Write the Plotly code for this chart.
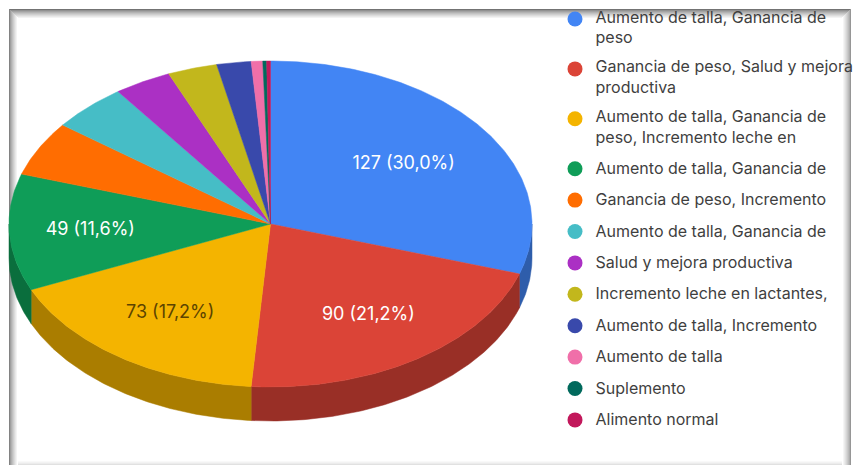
import math
import plotly.graph_objects as go

categories = [
    "Aumento de talla, Ganancia de<br>peso",
    "Ganancia de peso, Salud y mejora<br>productiva",
    "Aumento de talla, Ganancia de<br>peso, Incremento leche en",
    "Aumento de talla, Ganancia de",
    "Ganancia de peso, Incremento",
    "Aumento de talla, Ganancia de",
    "Salud y mejora productiva",
    "Incremento leche en lactantes,",
    "Aumento de talla, Incremento",
    "Aumento de talla",
    "Suplemento",
    "Alimento normal",
]
values = [127, 90, 73, 49, 23, 20, 15, 13, 9, 3, 1, 1]
colors = ["#4285f4", "#db4437", "#f4b400", "#0f9d58", "#ff6d01", "#46bdc6",
          "#ab30c4", "#c2b71c", "#3949ab", "#f06fa9", "#00695c", "#c2185b"]
wall_colors = ["#2e5dab", "#992f26", "#aa7d00", "#0a6e3d", "#b24c00", "#318489",
               "#772189", "#877f13", "#273777", "#a84d76", "#004940", "#871040"]
label_colors = ["#ffffff", "#ffffff", "#5c4400", "#ffffff"]
label_radius = [0.63, 0.67, 0.665, 0.69]

W, H = 853, 465
CX, CY, RX, RY, DEPTH = 270.5, 224.0, 261.5, 163.0, 34.0
total = sum(values)


def pt(a, dy=0.0, f=1.0):
    return CX + RX * f * math.sin(a), CY - RY * f * math.cos(a) + dy


def arc(a0, a1, dy=0.0):
    n = max(2, int(abs(a1 - a0) / 0.01))
    return [pt(a0 + (a1 - a0) * i / n, dy) for i in range(n + 1)]


fig = go.Figure()
angles = [0.0]
for v in values:
    angles.append(angles[-1] + 2 * math.pi * v / total)

# side walls (only the front half of the disc is visible)
for i in range(len(values)):
    a0 = max(angles[i], math.pi / 2)
    a1 = min(angles[i + 1], 3 * math.pi / 2)
    if a1 <= a0:
        continue
    poly = arc(a0, a1) + arc(a1, a0, DEPTH)
    poly.append(poly[0])
    fig.add_trace(go.Scatter(x=[p[0] for p in poly], y=[p[1] for p in poly], mode="lines",
                             fill="toself", fillcolor=wall_colors[i],
                             line=dict(color=wall_colors[i], width=0.5), hoverinfo="skip"))

# top face
for i in range(len(values)):
    poly = [(CX, CY)] + arc(angles[i], angles[i + 1]) + [(CX, CY)]
    fig.add_trace(go.Scatter(x=[p[0] for p in poly], y=[p[1] for p in poly], mode="lines",
                             fill="toself", fillcolor=colors[i],
                             line=dict(color=colors[i], width=0.5), hoverinfo="skip"))

# slice labels
lab = [i for i, v in enumerate(values) if v / total >= 0.1]
pos = [pt((angles[i] + angles[i + 1]) / 2, f=label_radius[n]) for n, i in enumerate(lab)]
fig.add_trace(go.Scatter(
    x=[p[0] for p in pos], y=[p[1] + 1 for p in pos],
    mode="text",
    text=[f"{values[i]} ({values[i] / total * 100:.1f}%)".replace(".", ",") for i in lab],
    textposition="middle center",
    textfont=dict(family="Inter", size=18, color=label_colors), hoverinfo="skip"))

# legend
ly, y = [], 19.0
for c in categories:
    ly.append(y)
    y += 31.4 + 18.5 * c.count("<br>")
fig.add_trace(go.Scatter(x=[575] * len(ly), y=ly, mode="markers",
                         marker=dict(size=15, color=colors, line=dict(width=0)), hoverinfo="skip"))
fig.add_trace(go.Scatter(x=[595.5] * len(ly),
                         y=[v + 1 + 9 * c.count("<br>") for v, c in zip(ly, categories)],
                         mode="text", text=categories, textposition="middle right",
                         textfont=dict(family="Inter", size=16, color="#3f3f3f"), hoverinfo="skip"))

# frame with soft inner shadow
shapes = []


def grey(t, lo):
    g = int(lo + (255 - lo) * t ** 0.7)
    return f"rgb({g},{g},{g})"


for k in range(10):
    c = grey(k / 9, 115)
    shapes.append(dict(type="rect", layer="below", xref="x", yref="y", x0=9, x1=851, y0=9 + k, y1=10 + k,
                       fillcolor=c, line_width=0))
for k in range(9):
    c = grey(k / 8, 130)
    shapes.append(dict(type="rect", layer="below", xref="x", yref="y", x0=9 + k, x1=10 + k, y0=9 + k, y1=H,
                       fillcolor=c, line_width=0))
for k in range(9):
    c = grey(k / 8, 150)
    shapes.append(dict(type="rect", layer="below", xref="x", yref="y", x0=850 - k, x1=851 - k, y0=9 + k, y1=H,
                       fillcolor=c, line_width=0))
for k in range(5):
    c = grey(k / 4, 225)
    shapes.append(dict(type="rect", layer="below", xref="x", yref="y", x0=18, x1=842, y0=H - k, y1=H - k - 1,
                       fillcolor=c, line_width=0))

fig.update_layout(
    width=W, height=H, margin=dict(l=0, r=0, t=0, b=0), autosize=False,
    paper_bgcolor="white", plot_bgcolor="white", showlegend=False, shapes=shapes,
    xaxis=dict(range=[0, W], visible=False, fixedrange=True),
    yaxis=dict(range=[H, 0], visible=False, fixedrange=True),
)
fig.write_html("out.html", config={"displayModeBar": False},
               post_script="document.body.style.margin='0';document.body.style.overflow='hidden';")
